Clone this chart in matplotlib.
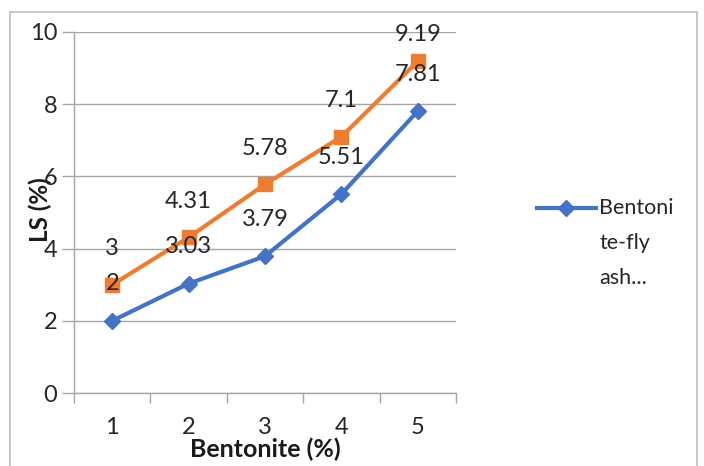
import matplotlib
matplotlib.use("Agg")
import matplotlib.pyplot as plt
from matplotlib.patches import Rectangle
from matplotlib.lines import Line2D

categories = ["1", "2", "3", "4", "5"]
blue_vals = [2, 3.03, 3.79, 5.51, 7.81]
orange_vals = [3, 4.31, 5.78, 7.1, 9.19]
blue_name_lines = ["Bentoni", "te-fly", "ash..."]
y_ticks = [0, 2, 4, 6, 8, 10]

plt.rcParams['font.family'] = ['Lato', 'DejaVu Sans']

fig = plt.figure(figsize=(7.04, 4.66), dpi=100)
fig.patch.set_facecolor('white')
fig.add_artist(Rectangle((10/704, -0.01), (697-10)/704, 1 - 12/466 + 0.01,
                         transform=fig.transFigure, fill=False,
                         edgecolor='#BFBFBF', linewidth=1.2))

ax = fig.add_axes([74/704, 1-393/466, (456-74)/704, (393-32)/466])
x = list(range(len(categories)))
blue_c = '#4472C4'
orange_c = '#ED7D31'
lb, = ax.plot(x, blue_vals, color=blue_c, lw=3, marker='D', ms=8.5, zorder=3)
lo, = ax.plot(x, orange_vals, color=orange_c, lw=3, marker='s', ms=9.5, zorder=3)

lab_kw = dict(textcoords='offset points', ha='center', va='center',
              fontsize=17, color='#262626', zorder=4, annotation_clip=False)
for xi, v in zip(x, blue_vals):
    ax.annotate(f"{v:g}", (xi, v), xytext=(0, 26.5), **lab_kw)
for i, (xi, v) in enumerate(zip(x, orange_vals)):
    off = 26 if i < len(orange_vals) - 1 else 19
    ax.annotate(f"{v:g}", (xi, v), xytext=(0, off), **lab_kw)

ax.set_xlim(-0.5, len(categories) - 0.5)
ax.set_ylim(0, 10)
ax.set_yticks(y_ticks)
ax.set_yticklabels([str(t) for t in y_ticks])
ax.set_xticks(x)
ax.set_xticklabels(categories)
ax.set_xticks([i - 0.5 for i in range(len(categories) + 1)], minor=True)
ax.tick_params(axis='x', which='major', length=0, pad=17, labelsize=17, colors='#262626')
ax.tick_params(axis='x', which='minor', length=7, width=1, color='#A6A6A6', direction='out')
ax.tick_params(axis='y', length=9, width=1, color='#A6A6A6', labelsize=17, pad=3, labelcolor='#262626')
ax.grid(axis='y', color='#A6A6A6', lw=1)
ax.set_axisbelow(True)
for s in ['top', 'right']:
    ax.spines[s].set_visible(False)
for s in ['left', 'bottom']:
    ax.spines[s].set_color('#A6A6A6')
    ax.spines[s].set_linewidth(1)

fig.text(40/704, 1-210/466, "LS (%)", rotation=90, ha='center', va='center',
         fontsize=17.5, fontweight='bold', color='#1a1a1a')
fig.text(265/704, 1-449/466, "Bentonite (%)", ha='center', va='center',
         fontsize=18, fontweight='bold', color='#1a1a1a')

# legend (only first series shown, wrapped label)
ly = 1 - 208/466
fig.add_artist(Line2D([537/704, 596/704], [ly, ly], transform=fig.transFigure,
                      color=blue_c, lw=3, marker=None))
fig.add_artist(Line2D([566/704], [ly], transform=fig.transFigure,
                      color=blue_c, marker='D', ms=8.5, lw=0))
for k, line in enumerate(blue_name_lines):
    fig.text(599/704, 1-(208 + 35*k)/466, line, ha='left', va='center',
             fontsize=15.5, color='#262626')

fig.savefig("out.png", dpi=100)
